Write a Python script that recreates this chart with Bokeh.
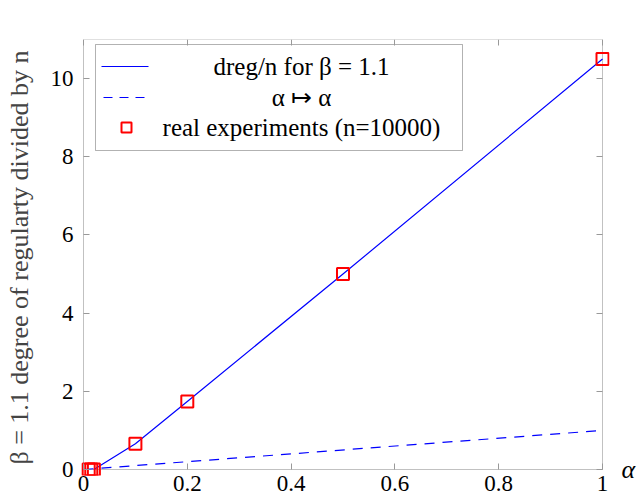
from bokeh.plotting import figure
from bokeh.models import (Range1d, FixedTicker, LinearAxis, BoxAnnotation, CustomLabelingPolicy)
from bokeh.core.properties import value
from bokeh.embed import file_html
from bokeh.resources import INLINE

# data
exp_x = [0.01, 0.015, 0.02, 0.1, 0.2, 0.5, 1.0]
exp_y = [0.0, 0.0, 0.0, 0.66, 1.74, 5.0, 10.5]
dreg_x = [0.02, 0.1, 0.2, 0.5, 1.0]
dreg_y = [0.0, 0.66, 1.74, 5.0, 10.5]
ident_x = [0.0, 1.0]
ident_y = [0.0, 1.0]
x_ticks = [0, 0.2, 0.4, 0.6, 0.8, 1]
x_tick_labels = ["0", "0.2", "0.4", "0.6", "0.8", "1"]
y_ticks = [0, 2, 4, 6, 8, 10]
y_tick_labels = ["0", "2", "4", "6", "8", "10"]
legend_labels = ["dreg/n for β = 1.1", "α ↦ α", "real experiments (n=10000)"]
X_MIN, X_MAX = 0, 1
Y_MIN, Y_MAX = 0, 11

FONT = "Liberation Serif"
BLUE = "#0000ff"
RED = "#ff0000"
BOX_W, BOX_H, PAD_X, PAD_Y = 519, 430, 7, 6
FRAME_W, FRAME_H = BOX_W + 2 * PAD_X, BOX_H + PAD_Y
TOP, LEFT = 39, 76
px = (X_MAX - X_MIN) * PAD_X / BOX_W
py = (Y_MAX - Y_MIN) * PAD_Y / BOX_H

p = figure(frame_width=FRAME_W, frame_height=FRAME_H,
           output_backend="svg", toolbar_location=None,
           x_range=Range1d(X_MIN - px, X_MAX + px), y_range=Range1d(Y_MIN - py, Y_MAX),
           x_axis_location=None, y_axis_location=None,
           min_border_left=LEFT, min_border_right=22, min_border_top=TOP, min_border_bottom=26)
p.xgrid.visible = False
p.ygrid.visible = False
p.outline_line_color = None
p.background_fill_color = "white"
p.border_fill_color = "white"
# pixel ranges of the frame, used only to place the legend
p.extra_x_ranges = {"lgx": Range1d(0, FRAME_W)}
p.extra_y_ranges = {"lgy": Range1d(0, FRAME_H)}

p.add_layout(BoxAnnotation(left=X_MIN, right=X_MAX, bottom=Y_MIN, top=Y_MAX,
                           fill_alpha=0, line_color="#333333", line_width=1, level="underlay"))

r1 = p.line(dreg_x, dreg_y, line_color=BLUE, line_width=1.2)
r2 = p.line(ident_x, ident_y, line_color=BLUE, line_width=1.2, line_dash="10 8")
r3 = p.scatter(exp_x, exp_y, marker="square", size=12, fill_color=None,
               line_color=RED, line_width=2)

NO_LABELS_JS = """
if (indices != null && typeof indices.unset === "function") {
  for (let i = 0; i < indices.size; i++) { indices.unset(i) }
  return indices
}
return []
"""


def tick_axis(ticks, fixed):
    return LinearAxis(ticker=FixedTicker(ticks=ticks), fixed_location=fixed,
                      major_tick_in=6, major_tick_out=0, minor_tick_line_color=None,
                      major_tick_line_color="#999999", axis_line_color=None,
                      major_label_policy=CustomLabelingPolicy(code=NO_LABELS_JS))


def label_axis(ticks, labels, standoff):
    ax = LinearAxis(ticker=FixedTicker(ticks=ticks), major_tick_in=0, major_tick_out=0,
                    minor_tick_line_color=None, major_tick_line_color=None,
                    axis_line_color=None, major_label_text_font=FONT,
                    major_label_text_font_size="23px", major_label_text_color="black",
                    major_label_standoff=standoff)
    ax.major_label_overrides = {t: l for t, l in zip(ticks, labels)}
    return ax


p.add_layout(tick_axis(x_ticks, Y_MIN), "below")
p.add_layout(tick_axis(y_ticks, X_MIN), "left")
p.add_layout(tick_axis(x_ticks, Y_MAX), "above")
p.add_layout(tick_axis(y_ticks, X_MAX), "right")

xb = label_axis(x_ticks, x_tick_labels, 0)
yl = label_axis(y_ticks, y_tick_labels, 3)
yl.axis_label = "β = 1.1 degree of regularty divided by n"
yl.axis_label_text_font = FONT
yl.axis_label_text_font_style = "normal"
yl.axis_label_text_font_size = "26px"
yl.axis_label_standoff = 14
p.add_layout(xb, "below")
p.add_layout(yl, "left")

# x-axis name at the right end of the x axis, drawn as a tick label of a right axis
xr = LinearAxis(ticker=FixedTicker(ticks=[Y_MIN]), axis_line_color=None,
                major_tick_line_color=None, minor_tick_line_color=None,
                major_tick_in=0, major_tick_out=0, major_label_standoff=12,
                major_label_orientation="horizontal",
                major_label_text_font=FONT, major_label_text_font_style="italic",
                major_label_text_font_size="26px", major_label_text_color="black")
xr.major_label_overrides = {Y_MIN: "α"}
p.add_layout(xr, "right")

# ---- legend, drawn by hand in frame pixels (page pixels converted) ----
def fx(sx):
    return sx - LEFT


def fy(sy):
    return TOP + FRAME_H - sy


LG_L, LG_R, LG_T, LG_B = 95, 462, 44, 150
ROWS = [66, 97, 127]
TEXT_CX = 301
SAMPLE_X0, SAMPLE_X1, MARK_X = 101, 148, 126
DASHES = [(103, 112), (119, 128), (135, 144)]
HALF_W = 0.6

p.add_layout(BoxAnnotation(left=fx(LG_L), right=fx(LG_R), top=fy(LG_T), bottom=fy(LG_B),
                           x_range_name="lgx", y_range_name="lgy", fill_color="white",
                           fill_alpha=1, line_color="black", line_width=1, level="underlay"))
# solid sample and dashed sample as thin filled bars, all in one renderer
bars = [(SAMPLE_X0, SAMPLE_X1, ROWS[0])] + [(a, b, ROWS[1]) for a, b in DASHES]
p.quad(left=[fx(a) for a, b, r in bars], right=[fx(b) for a, b, r in bars],
       bottom=[fy(r) - HALF_W for a, b, r in bars], top=[fy(r) + HALF_W for a, b, r in bars],
       fill_color=BLUE, line_color=None, x_range_name="lgx", y_range_name="lgy")
p.scatter(x=[fx(MARK_X)], y=[fy(ROWS[2])], marker="square", size=10, fill_color=None,
          line_color=RED, line_width=2, x_range_name="lgx", y_range_name="lgy")
p.text(x=[fx(TEXT_CX)] * 3, y=[fy(r) for r in ROWS], text=legend_labels,
       text_font=value(FONT), text_font_size="25px", text_color="black",
       text_align="center", text_baseline="middle", x_range_name="lgx", y_range_name="lgy")

open("out.html", "w").write(file_html(p, INLINE))
